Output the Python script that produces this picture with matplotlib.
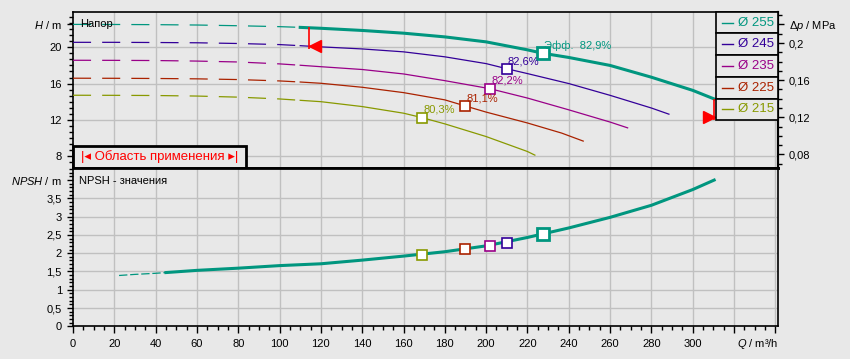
import numpy as np
import matplotlib
matplotlib.use('Agg')
import matplotlib.pyplot as plt
from matplotlib.ticker import MultipleLocator
from matplotlib.patches import Rectangle

plt.rcParams['font.family'] = ['Liberation Sans', 'DejaVu Sans']
plt.rcParams['mathtext.fontset'] = 'custom'
plt.rcParams['mathtext.it'] = 'Liberation Sans:italic'
plt.rcParams['mathtext.rm'] = 'Liberation Sans'
plt.rcParams['lines.scale_dashes'] = False

# --- data ---
diam_labels = ['Ø 255', 'Ø 245', 'Ø 235', 'Ø 225', 'Ø 215']
colors = ['#00967f', '#330099', '#990088', '#aa2200', '#889900']

q255 = [0, 20, 40, 60, 80, 100, 110, 120, 140, 160, 180, 200, 220, 227.5, 240, 260, 280, 300, 310.4]
h255 = [22.53, 22.52, 22.5, 22.46, 22.38, 22.28, 22.2, 22.1, 21.86, 21.56, 21.15, 20.6, 19.72, 19.34, 18.88, 18.0, 16.7, 15.25, 14.3]
q245 = [0, 20, 40, 60, 80, 100, 110, 120, 140, 160, 180, 200, 209.9, 220, 240, 260, 280, 288.5]
h245 = [20.55, 20.55, 20.53, 20.5, 20.42, 20.3, 20.18, 20.05, 19.82, 19.5, 18.95, 18.2, 17.64, 17.1, 16.0, 14.7, 13.3, 12.62]
q235 = [0, 20, 40, 60, 80, 100, 110, 120, 140, 160, 180, 201.7, 220, 240, 260, 268.5]
h235 = [18.57, 18.56, 18.54, 18.48, 18.38, 18.17, 18.02, 17.86, 17.55, 17.06, 16.32, 15.44, 14.4, 13.1, 11.75, 11.11]
q225 = [0, 20, 40, 60, 80, 100, 110, 120, 140, 160, 180, 189.7, 200, 220, 236.6, 247]
h225 = [16.59, 16.58, 16.56, 16.52, 16.44, 16.29, 16.17, 16.03, 15.59, 15.0, 14.2, 13.54, 12.85, 11.65, 10.53, 9.65]
q215 = [0, 20, 40, 60, 80, 100, 110, 120, 140, 160, 168.8, 180, 200, 220, 223.6]
h215 = [14.71, 14.7, 14.68, 14.62, 14.5, 14.3, 14.15, 14.0, 13.46, 12.73, 12.25, 11.55, 10.15, 8.5, 8.1]
curves = [(q255, h255), (q245, h245), (q235, h235), (q225, h225), (q215, h215)]
split_q = 110  # dashed below, solid above

eff_q = [227.5, 209.9, 201.7, 189.7, 168.8]
eff_h = [19.34, 17.64, 15.44, 13.54, 12.25]
eff_text = ['Эфф.  82,9%', '82,6%', '82,2%', '81,1%', '80,3%']
eff_npsh = [2.52, 2.29, 2.2, 2.11, 1.95]

npsh_q = [22.3, 30, 40, 45, 60, 80, 100, 120, 140, 160, 180, 200, 220, 240, 260, 280, 300, 310.4]
npsh_v = [1.39, 1.42, 1.45, 1.47, 1.53, 1.59, 1.66, 1.71, 1.81, 1.92, 2.04, 2.2, 2.43, 2.69, 2.98, 3.31, 3.74, 4.0]

q_app = [114.4, 310.4]
h_app_top = [22.27, 14.3]
h_app_bot = [19.78, 12.0]
h_app_tri = [20.12, 12.3]

x_ticks = list(range(0, 320, 20))
h_ticks = [8, 12, 16, 20]
dp_ticks = [0.08, 0.12, 0.16, 0.2]
npsh_ticks = [0, 0.5, 1, 1.5, 2, 2.5, 3, 3.5]
kpa = 0.00977  # MPa per m

bg = '#e8e8e8'
gridc = '#c0c0c0'
W, H = 850, 359


def rect(l, t, r, b):
    return [l / W, 1 - b / H, (r - l) / W, (b - t) / H]


def fmt(v):
    return ('%g' % v).replace('.', ',')


fig = plt.figure(figsize=(8.5, 3.59), dpi=100, facecolor=bg)
ax1 = fig.add_axes(rect(73, 11.7, 778, 168), facecolor=bg)
ax2 = fig.add_axes(rect(73, 168, 778, 326.3), facecolor=bg)

xmax = 341.3
for ax in (ax1, ax2):
    ax.set_xlim(0, xmax)
    for x in range(20, 360, 20):
        ax.axvline(x, color=gridc, lw=1, zorder=0)
    for s in ax.spines.values():
        s.set_color('black')
        s.set_linewidth(1.2)
    ax.tick_params(which='major', length=4.5, width=1, color='black', labelsize=8)
    ax.tick_params(which='minor', length=3, width=1, color='black')

ax1.spines['bottom'].set_linewidth(2)
ax2.spines['top'].set_linewidth(2)
ax1.spines['right'].set_linewidth(1.5)

# upper panel
ax1.set_ylim(6.68, 23.93)
for h in h_ticks:
    ax1.axhline(h, color=gridc, lw=1, zorder=0)
ax1.set_yticks(h_ticks + [22.6], labels=[str(h) for h in h_ticks] + [r'$H$ / m'])
ax1.yaxis.set_minor_locator(MultipleLocator(2 / 3))
ax1.set_xticks([])
ax1.tick_params(axis='x', which='both', bottom=False, labelbottom=False)

for i, (q, h) in enumerate(curves):
    q = np.array(q)
    h = np.array(h)
    lw = 2.2 if i == 0 else 0.9
    d = q <= split_q
    ax1.plot(q[d], h[d], color=colors[i], lw=0.9, dashes=(13, 8), zorder=3)
    s = q >= split_q
    ax1.plot(q[s], h[s], color=colors[i], lw=lw, zorder=4 if i == 0 else 3)

for i in range(5):
    big = i == 0
    ax1.plot(eff_q[i], eff_h[i], marker='s', ms=8 if big else 6.5, mfc='white',
             mec=colors[i], mew=2 if big else 1.2, zorder=6)
    ax1.annotate(eff_text[i], (eff_q[i], eff_h[i]), xytext=(1, 5.5), textcoords='offset points',
                 color=colors[i], fontsize=8, ha='left', va='center', zorder=7)

# application range arrows
ax1.vlines(q_app, h_app_bot, h_app_top, color='red', lw=1.2, zorder=5)
ax1.plot(q_app[0] + 2.6, h_app_tri[0], marker='<', ms=8, color='red', zorder=6)
ax1.plot(q_app[1] - 2.6, h_app_tri[1], marker='>', ms=8, color='red', zorder=6)

ax1.text(7 / 705, 1 - 12.5 / 156.3, 'Напор', transform=ax1.transAxes, fontsize=8,
         ha='left', va='center')

# application range box
ax1.add_patch(Rectangle((0, 0), 173 / 705, 22 / 156.3, transform=ax1.transAxes,
                        facecolor=bg, edgecolor='black', lw=2, zorder=8, clip_on=False))
ax1.text(86.5 / 705, 11 / 156.3, '|◂ Область применения ▸|', transform=ax1.transAxes,
         color='red', fontsize=9.5, ha='center', va='center', zorder=9)

# legend boxes
lx0 = (715.7 - 73) / 705
rh = 21.7 / 156.3
for i in range(5):
    y0 = 1 - (i + 1) * rh
    ax1.add_patch(Rectangle((lx0, y0), 1 - lx0, rh, transform=ax1.transAxes,
                            facecolor=bg, edgecolor='black', lw=1.2, zorder=8, clip_on=False))
    ax1.plot([(721.7 - 73) / 705, (733.3 - 73) / 705], [y0 + rh / 2] * 2, color=colors[i],
             lw=1, transform=ax1.transAxes, zorder=9)
    ax1.text((738 - 73) / 705, y0 + rh / 2, diam_labels[i], transform=ax1.transAxes,
             color=colors[i], fontsize=9.5, ha='left', va='center', zorder=9)

# pressure axis on the right
sec = ax1.secondary_yaxis('right', functions=(lambda h: h * kpa, lambda p: p / kpa))
sec.set_yticks(dp_ticks + [0.22], labels=[fmt(v) for v in dp_ticks] + [r'$\Delta p$ / MPa'])
sec.yaxis.set_minor_locator(MultipleLocator(0.01))
sec.tick_params(which='major', length=4.5, width=1, labelsize=8)
sec.tick_params(which='minor', length=3, width=1)
sec.spines['right'].set_linewidth(1.5)

# lower panel
ax2.set_ylim(0, 4.33)
for v in npsh_ticks[1:]:
    ax2.axhline(v, color=gridc, lw=1, zorder=0)
ax2.set_yticks(npsh_ticks + [4], labels=[fmt(v) for v in npsh_ticks] + [r'$NPSH$ / m'])
ax2.yaxis.set_minor_locator(MultipleLocator(0.1))
ax2.set_xticks(x_ticks + [320, 340], labels=[str(x) for x in x_ticks] + ['', ''])
ax2.xaxis.set_minor_locator(MultipleLocator(5))
ax2.tick_params(axis='x', which='major', length=5, pad=4)

nq = np.array(npsh_q)
nv = np.array(npsh_v)
ax2.plot(nq[nq <= 45], nv[nq <= 45], color=colors[0], lw=0.9, dashes=(6, 2), zorder=3)
ax2.plot(nq[nq >= 45], nv[nq >= 45], color=colors[0], lw=2.2, zorder=4)
for i in range(5):
    big = i == 0
    ax2.plot(eff_q[i], eff_npsh[i], marker='s', ms=8 if big else 6.5, mfc='white',
             mec=colors[i], mew=2 if big else 1.2, zorder=6)

ax2.text(6 / 705, 1 - 13 / 158.3, 'NPSH - значения', transform=ax2.transAxes, fontsize=8,
         ha='left', va='center')
fig.text(778 / W, 1 - 344 / H, r'$Q$ / m³/h', fontsize=8, ha='right', va='center')

fig.savefig('out.png', dpi=100, facecolor=bg)
